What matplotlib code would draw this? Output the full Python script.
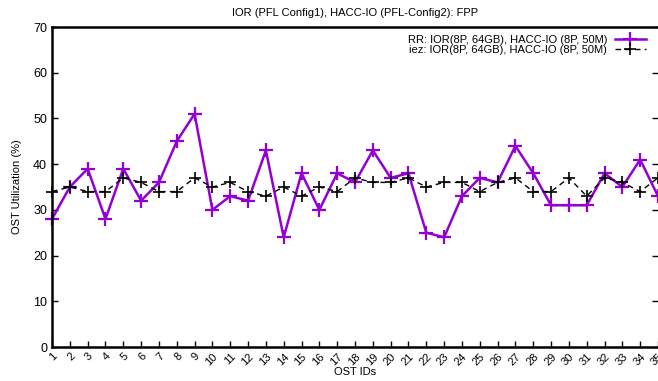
import matplotlib
matplotlib.use("Agg")
import matplotlib.pyplot as plt

plt.rcParams['font.family'] = ['Liberation Sans', 'DejaVu Sans']

# OST IDs and utilization (%)
ost_ids = list(range(1, 36))
rr_util = [28, 35, 39, 28, 39, 32, 36, 45, 51, 30, 33, 32, 43, 24, 38, 30, 38, 36,
           43, 37, 38, 25, 24, 33, 37, 36, 44, 38, 31, 31, 31, 38, 35, 41, 33]
iez_util = [34, 35, 34, 34, 37, 36, 34, 34, 37, 35, 36, 34, 33, 35, 33, 35, 34, 37,
            36, 36, 37, 35, 36, 36, 34, 36, 37, 34, 34, 37, 33, 37, 36, 34, 37]
yticks = [0, 10, 20, 30, 40, 50, 60, 70]

fig = plt.figure(figsize=(6.58, 3.81), dpi=100)
ax = fig.add_axes([52 / 658, 34 / 381, 606 / 658, 320 / 381])

ax.plot(ost_ids, rr_util, color='#9400D3', lw=1.8, marker='+', ms=10, mew=1.6,
        label='RR: IOR(8P, 64GB), HACC-IO (8P, 50M)', clip_on=False)
ax.plot(ost_ids, iez_util, color='black', lw=1.0, ls=(0, (4, 3)), marker='+', ms=9,
        mew=1.2, label='iez: IOR(8P, 64GB), HACC-IO (8P, 50M)', clip_on=False)

ax.set_xlim(1, 35)
ax.set_ylim(0, 70)
ax.set_xticks(ost_ids)
ax.set_xticklabels([str(i) for i in ost_ids], rotation=45, ha='right',
                   rotation_mode='anchor', fontsize=8)
ax.set_yticks(yticks)
ax.set_yticklabels([str(v) for v in yticks], fontsize=9)
ax.tick_params(axis='both', direction='in', length=4, width=1, right=True, top=False)
ax.tick_params(axis='x', pad=3)
for side in ['left', 'bottom', 'top']:
    ax.spines[side].set_linewidth(1.8)
ax.spines['right'].set_visible(False)

ax.set_xlabel('OST IDs', fontsize=8, labelpad=0)
ax.set_ylabel('OST Utilization (%)', fontsize=8, labelpad=8)
ax.set_title('IOR (PFL Config1), HACC-IO (PFL-Config2): FPP', fontsize=8, pad=8)

leg = ax.legend(loc='upper right', bbox_to_anchor=(0.993, 1.0), frameon=False,
                fontsize=8, markerfirst=False, handlelength=2.8, handletextpad=0.7,
                labelspacing=0.0, borderaxespad=0.3)
for t in leg.get_texts():
    t.set_ha('right')

fig.savefig('out.png', dpi=100)
